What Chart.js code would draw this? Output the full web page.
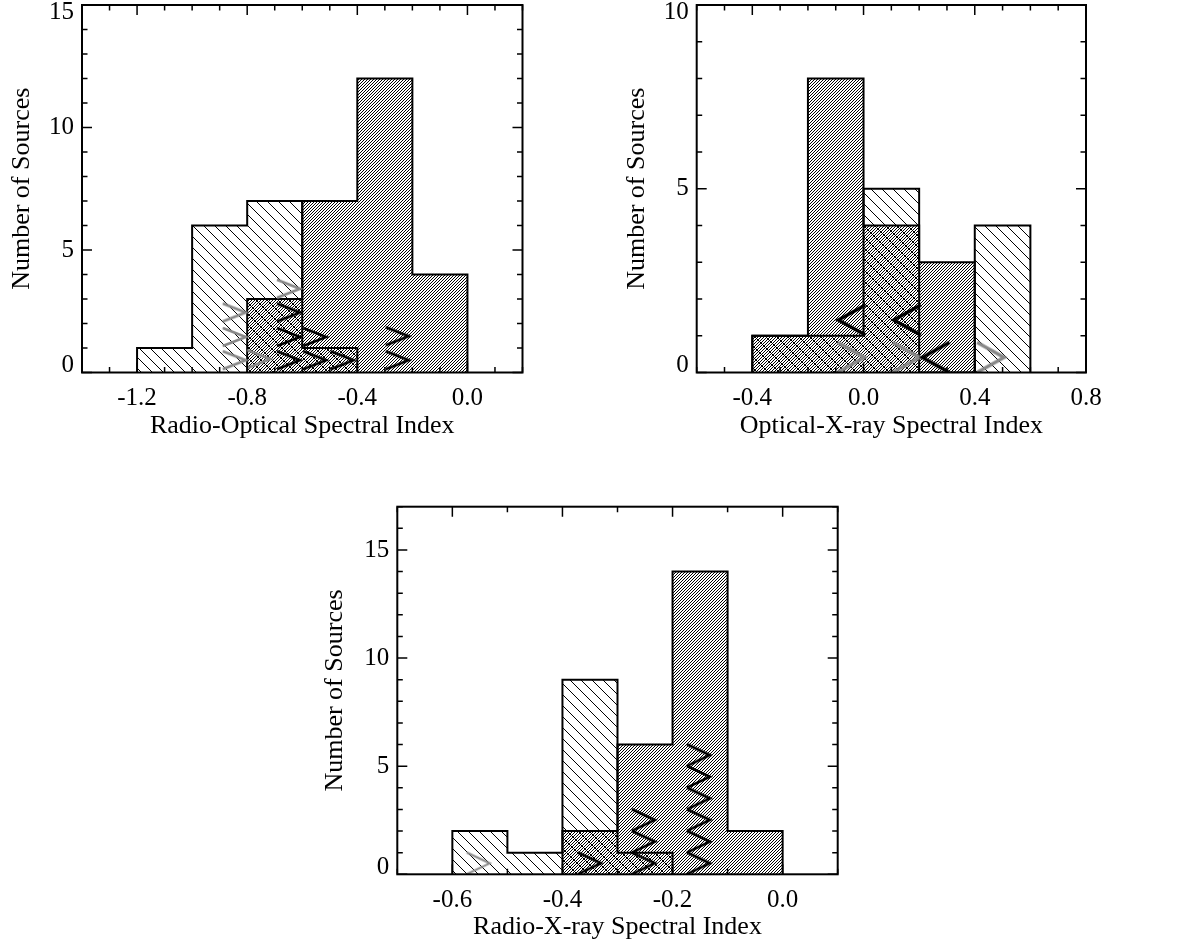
<!DOCTYPE html>
<html>
<head>
<meta charset="utf-8">
<script src="https://cdn.jsdelivr.net/npm/chart.js@4.4.1/dist/chart.umd.min.js"></script>
<style>
  html, body { margin: 0; padding: 0; background: #fff; }
  #wrap { position: relative; width: 1182px; height: 948px; overflow: hidden; }
  #wrap canvas { position: absolute; left: 0; top: 0; }
</style>
</head>
<body>
<div id="wrap">
  <canvas id="roChart" width="1182" height="948"></canvas>
  <canvas id="oxChart" width="1182" height="948"></canvas>
  <canvas id="rxChart" width="1182" height="948"></canvas>
</div>
<script>
// ---- Radio-Optical panel ----
const roEdges = [-1.2, -1.0, -0.8, -0.6, -0.4, -0.2, 0.0];
const roSparse = [1, 6, 7, 1, 0, 0];
const roDense = [0, 0, 3, 7, 12, 4];
const roTickX = [-1.2, -0.8, -0.4, 0.0];
const roTickXLabels = ["-1.2", "-0.8", "-0.4", "0.0"];
const roTickY = [0, 5, 10, 15];
const roGrayX = [-0.65, -0.847, -0.847, -0.847, -0.758];
const roGrayY = [3.42, 2.45, 1.45, 0.5, 0.55];
const roBlackX = [-0.65, -0.65, -0.65, -0.555, -0.555, -0.455, -0.255, -0.255];
const roBlackY = [2.45, 1.45, 0.5, 1.45, 0.5, 0.5, 1.48, 0.5];

// ---- Optical-X-ray panel ----
const oxEdges = [-0.4, -0.2, 0.0, 0.2, 0.4, 0.6];
const oxSparse = [1, 1, 5, 0, 4];
const oxDense = [1, 8, 4, 3, 0];
const oxTickX = [-0.4, 0.0, 0.4, 0.8];
const oxTickXLabels = ["-0.4", "0.0", "0.4", "0.8"];
const oxTickY = [0, 5, 10];
const oxGrayX = [-0.045, 0.153, 0.457];
const oxGrayY = [0.41, 0.41, 0.41];
const oxBlackX = [-0.042, 0.157, 0.26];
const oxBlackY = [1.43, 1.43, 0.41];

// ---- Radio-X-ray panel ----
const rxEdges = [-0.6, -0.5, -0.4, -0.3, -0.2, -0.1, 0.0];
const rxSparse = [2, 1, 9, 1, 0, 0];
const rxDense = [0, 0, 2, 6, 14, 2];
const rxTickX = [-0.6, -0.4, -0.2, 0.0];
const rxTickXLabels = ["-0.6", "-0.4", "-0.2", "0.0"];
const rxTickY = [0, 5, 10, 15];
const rxGrayX = [-0.553];
const rxGrayY = [0.5];
const rxBlackX = [-0.351, -0.253, -0.253, -0.253, -0.153, -0.153, -0.153, -0.153, -0.153, -0.153];
const rxBlackY = [0.5, 0.5, 1.5, 2.5, 0.5, 1.5, 2.5, 3.5, 4.5, 5.5];

const yTitle = "Number of Sources";

Chart.defaults.font.family = '"Liberation Serif", "Times New Roman", serif';
Chart.defaults.color = "#000";

// diagonal line pattern, "/" or "\"
function hatch(size, dir, lw) {
  const c = document.createElement("canvas");
  c.width = c.height = size;
  const g = c.getContext("2d");
  g.strokeStyle = "#000";
  g.lineWidth = lw;
  g.beginPath();
  if (dir === "/") {
    g.moveTo(0, size); g.lineTo(size, 0);
    g.moveTo(-size / 2, size / 2); g.lineTo(size / 2, -size / 2);
    g.moveTo(size / 2, size * 1.5); g.lineTo(size * 1.5, size / 2);
  } else {
    g.moveTo(0, 0); g.lineTo(size, size);
    g.moveTo(-size / 2, size / 2); g.lineTo(size / 2, size * 1.5);
    g.moveTo(size / 2, -size / 2); g.lineTo(size * 1.5, size / 2);
  }
  g.stroke();
  return g.createPattern(c, "repeat");
}

// ">" or "<" marker used as point style
function chevron(w, h, lw, color, dir) {
  const pad = Math.ceil(lw * 3);
  const c = document.createElement("canvas");
  c.width = w + 2 * pad;
  c.height = Math.round(h) + 2 * pad;
  const g = c.getContext("2d");
  g.strokeStyle = color;
  g.lineWidth = lw;
  g.beginPath();
  if (dir === ">") {
    g.moveTo(pad, pad); g.lineTo(pad + w, pad + h / 2); g.lineTo(pad, pad + h);
  } else {
    g.moveTo(pad + w, pad); g.lineTo(pad, pad + h / 2); g.lineTo(pad + w, pad + h);
  }
  g.stroke();
  return c;
}

// histogram outline as stepped line points
function steps(edges, counts) {
  let i0 = counts.findIndex(c => c > 0);
  let i1 = counts.length - 1;
  while (counts[i1] === 0) i1--;
  const pts = [{ x: edges[i0], y: 0 }];
  for (let i = i0; i <= i1; i++) pts.push({ x: edges[i], y: counts[i] });
  pts.push({ x: edges[i1 + 1], y: 0 });
  return pts;
}

const pts = (xs, ys) => xs.map((x, i) => ({ x: x, y: ys[i] }));

const idlAxes = {
  id: "idlAxes",
  beforeDraw(chart) {
    const s = chart.scales.y;
    const items = s.getLabelItems();
    if (items._shifted) return;
    s.ticks.forEach((t, i) => {
      if (!items[i]) return;
      if (t.value === s.min) items[i].options.translation[1] -= 7;
      if (t.value === s.max) items[i].options.translation[1] += 7.5;
    });
    items._shifted = true;
  },
  afterDraw(chart, args, o) {
    const { ctx, chartArea: a, scales: { x, y } } = chart;
    ctx.save();
    ctx.strokeStyle = "#000";
    ctx.lineWidth = 1.5;
    ctx.beginPath();
    const nx = Math.round((x.max - x.min) / o.xMinor);
    for (let i = 0; i <= nx; i++) {
      const v = x.min + i * o.xMinor;
      const len = o.xMajor.some(m => Math.abs(m - v) < 1e-6) ? 10 : 5.5;
      const px = x.getPixelForValue(v);
      ctx.moveTo(px, a.bottom); ctx.lineTo(px, a.bottom - len);
      ctx.moveTo(px, a.top); ctx.lineTo(px, a.top + len);
    }
    const ny = Math.round((y.max - y.min) / o.yMinor);
    for (let i = 0; i <= ny; i++) {
      const v = y.min + i * o.yMinor;
      const len = o.yMajor.some(m => Math.abs(m - v) < 1e-6) ? 10 : 5.5;
      const py = y.getPixelForValue(v);
      ctx.moveTo(a.left, py); ctx.lineTo(a.left + len, py);
      ctx.moveTo(a.right, py); ctx.lineTo(a.right - len, py);
    }
    ctx.stroke();
    ctx.lineWidth = 2;
    ctx.strokeRect(a.left, a.top, a.right - a.left, a.bottom - a.top);
    ctx.restore();
  }
};

function makePanel(id, p) {
  const W = 1182, H = 948, yw = 80, xh = 70;
  const sparse = hatch(11, "\\", 1);
  const dense = hatch(3, "/", 1);
  const histStyle = {
    stepped: true, fill: "origin", borderColor: "#000", borderWidth: 2,
    pointRadius: 0, borderJoinStyle: "miter"
  };
  new Chart(document.getElementById(id), {
    type: "line",
    data: {
      datasets: [
        { type: "scatter", data: pts(p.blackX, p.blackY), pointRadius: 3,
          pointStyle: chevron(p.chevW, p.chevH, p.blackLw, "#000", p.blackDir), order: 0 },
        { type: "scatter", data: pts(p.grayX, p.grayY), pointRadius: 3,
          pointStyle: chevron(p.chevW, p.chevH, p.grayLw, "#888", p.grayDir), order: 0 },
        Object.assign({ data: steps(p.edges, p.dense), backgroundColor: dense, order: 1 }, histStyle),
        Object.assign({ data: steps(p.edges, p.sparse), backgroundColor: sparse, order: 2 }, histStyle)
      ]
    },
    options: {
      responsive: false,
      animation: false,
      events: [],
      layout: {
        padding: {
          left: p.area[0] - yw, top: p.area[1],
          right: W - p.area[2], bottom: H - p.area[3] - xh
        }
      },
      plugins: {
        legend: { display: false },
        tooltip: { enabled: false },
        idlAxes: { xMinor: p.xMinor, yMinor: 1, xMajor: p.tickX, yMajor: p.tickY }
      },
      scales: {
        x: {
          type: "linear", min: p.xRange[0], max: p.xRange[1],
          grid: { display: false, drawTicks: false }, border: { display: false },
          afterBuildTicks: s => { s.ticks = p.tickX.map(v => ({ value: v })); },
          afterFit: s => { s.height = xh; s.paddingLeft = 0; s.paddingRight = 0; },
          ticks: { autoSkip: false, maxRotation: 0, padding: 11, font: { size: 25 },
                   callback: (v, i) => p.tickXLabels[i] },
          title: { display: true, text: p.xTitle, font: { size: 26 }, padding: { top: 0, bottom: 1.2 } }
        },
        y: {
          type: "linear", min: 0, max: p.yMax,
          grid: { display: false, drawTicks: false }, border: { display: false },
          afterBuildTicks: s => { s.ticks = p.tickY.map(v => ({ value: v })); },
          afterFit: s => { s.width = yw; s.paddingTop = 0; s.paddingBottom = 0; },
          ticks: { autoSkip: false, padding: 8, font: { size: 25 },
                   callback: v => String(v) },
          title: { display: true, text: yTitle, font: { size: 26 },
                   padding: { top: yw - 15.6 - p.yTitleOff, bottom: 0 } }
        }
      }
    },
    plugins: [idlAxes]
  });
}

makePanel("roChart", {
  area: [82, 5, 522.5, 372.5], xRange: [-1.4, 0.2], yMax: 15, xMinor: 0.1,
  edges: roEdges, sparse: roSparse, dense: roDense,
  tickX: roTickX, tickXLabels: roTickXLabels, tickY: roTickY,
  grayX: roGrayX, grayY: roGrayY, blackX: roBlackX, blackY: roBlackY,
  chevW: 23, chevH: 18, blackLw: 2.6, grayLw: 2.6, blackDir: ">", grayDir: ">",
  xTitle: "Radio-Optical Spectral Index", yTitleOff: 60
});

makePanel("oxChart", {
  area: [696.7, 5, 1086, 372.5], xRange: [-0.6, 0.8], yMax: 10, xMinor: 0.1,
  edges: oxEdges, sparse: oxSparse, dense: oxDense,
  tickX: oxTickX, tickXLabels: oxTickXLabels, tickY: oxTickY,
  grayX: oxGrayX, grayY: oxGrayY, blackX: oxBlackX, blackY: oxBlackY,
  chevW: 27, chevH: 30, blackLw: 3.4, grayLw: 3.4, blackDir: "<", grayDir: ">",
  xTitle: "Optical-X-ray Spectral Index", yTitleOff: 60
});

makePanel("rxChart", {
  area: [397.3, 506.7, 837.7, 874.3], xRange: [-0.7, 0.1], yMax: 17, xMinor: 0.1,
  edges: rxEdges, sparse: rxSparse, dense: rxDense,
  tickX: rxTickX, tickXLabels: rxTickXLabels, tickY: rxTickY,
  grayX: rxGrayX, grayY: rxGrayY, blackX: rxBlackX, blackY: rxBlackY,
  chevW: 23, chevH: 21.6, blackLw: 2.6, grayLw: 2, blackDir: ">", grayDir: ">",
  xTitle: "Radio-X-ray Spectral Index", yTitleOff: 62
});
</script>
</body>
</html>
